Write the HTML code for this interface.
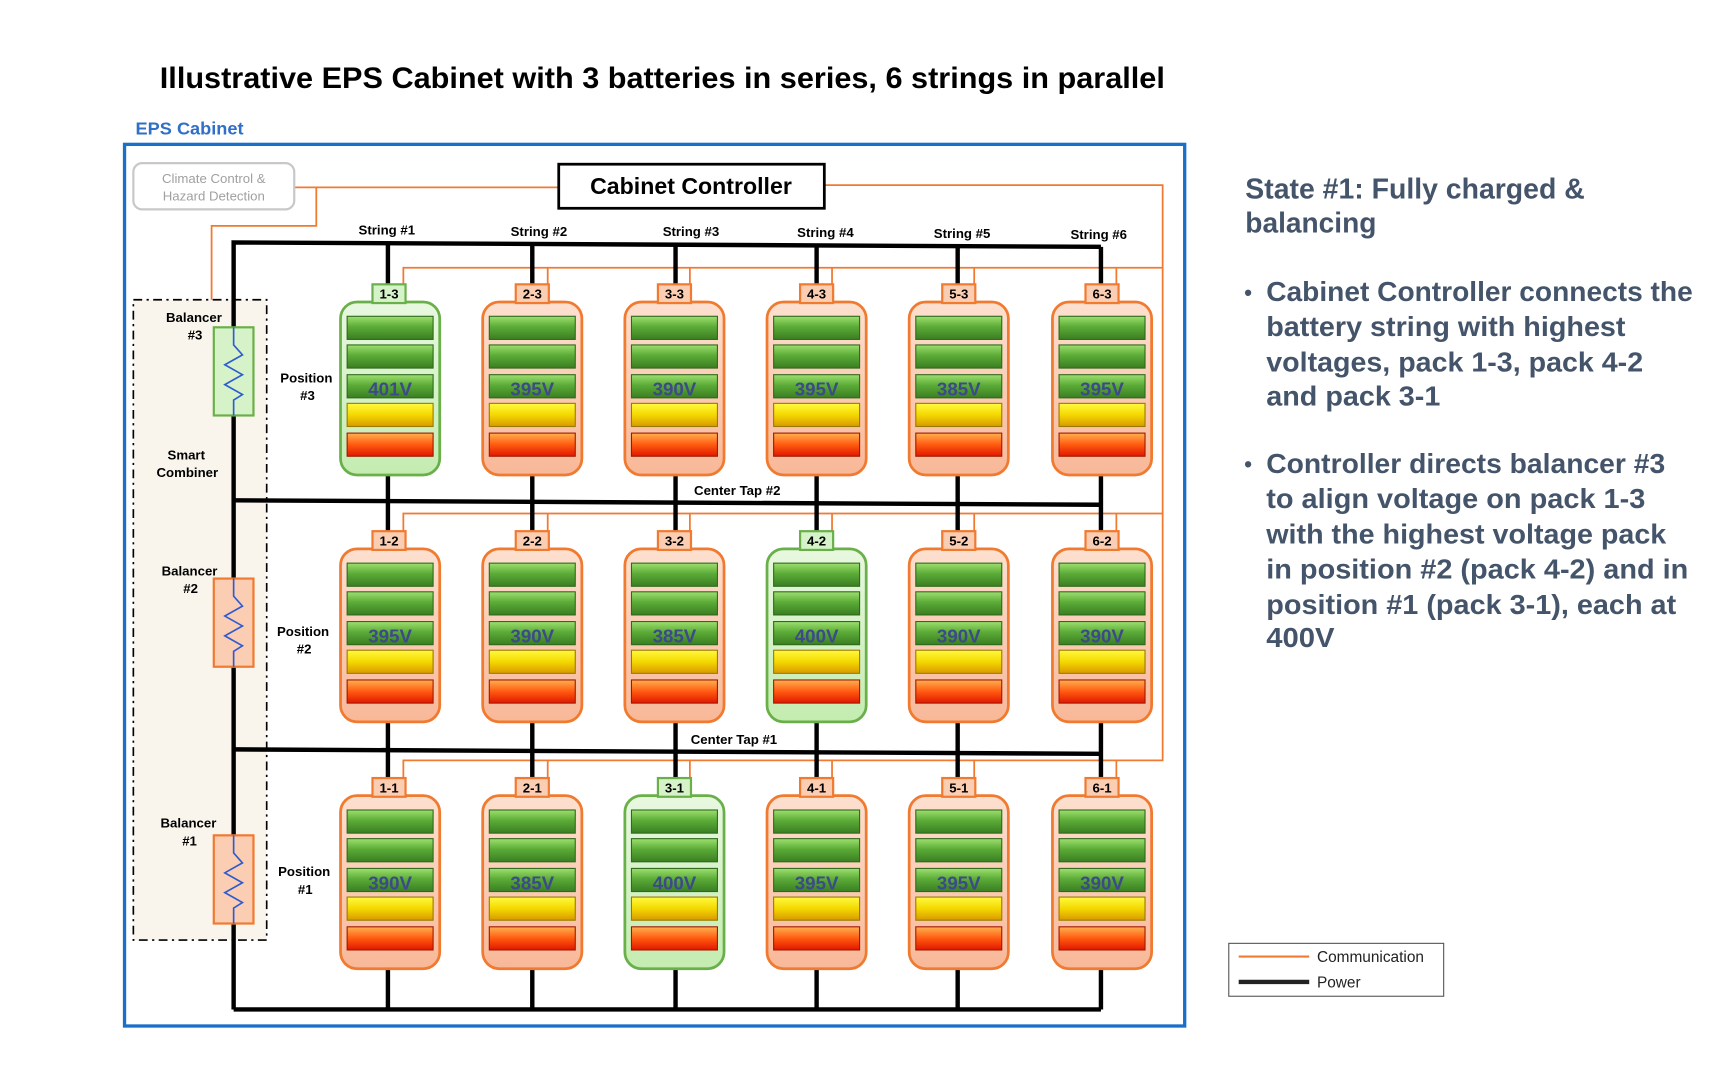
<!DOCTYPE html>
<html><head><meta charset="utf-8"><style>
html,body{margin:0;padding:0;background:#fff;}
svg{display:block;}
text{font-family:"Liberation Sans",sans-serif;}
</style></head><body>
<svg width="1728" height="1080" viewBox="0 0 1568 980" xmlns="http://www.w3.org/2000/svg">
<defs>
<linearGradient id="gG" x1="0" y1="0" x2="0" y2="1"><stop offset="0" stop-color="#9ee070"/><stop offset="0.45" stop-color="#5cac38"/><stop offset="1" stop-color="#3a7e22"/></linearGradient>
<linearGradient id="gY" x1="0" y1="0" x2="0" y2="1"><stop offset="0" stop-color="#fffa40"/><stop offset="0.5" stop-color="#f4d800"/><stop offset="1" stop-color="#d89a00"/></linearGradient>
<linearGradient id="gR" x1="0" y1="0" x2="0" y2="1"><stop offset="0" stop-color="#ffb050"/><stop offset="0.5" stop-color="#ff5a10"/><stop offset="1" stop-color="#e01800"/></linearGradient>
<linearGradient id="gO" x1="0" y1="0" x2="0" y2="1"><stop offset="0" stop-color="#fde0d0"/><stop offset="1" stop-color="#f8b898"/></linearGradient>
<linearGradient id="gGr" x1="0" y1="0" x2="0" y2="1"><stop offset="0" stop-color="#e8f8e0"/><stop offset="1" stop-color="#c4ecb0"/></linearGradient>
<g id="bars">
<rect x="6" y="13" width="78" height="21" fill="url(#gG)" stroke="#2e6a1a" stroke-width="1"/>
<rect x="6" y="39" width="78" height="21" fill="url(#gG)" stroke="#2e6a1a" stroke-width="1"/>
<rect x="6" y="66" width="78" height="21" fill="url(#gG)" stroke="#2e6a1a" stroke-width="1"/>
<rect x="6" y="92" width="78" height="21" fill="url(#gY)" stroke="#9a7a00" stroke-width="1"/>
<rect x="6" y="119" width="78" height="21" fill="url(#gR)" stroke="#a01800" stroke-width="1"/>
</g>
<g id="po"><rect x="0" y="0" width="90" height="157" rx="15" fill="url(#gO)" stroke="#f07a30" stroke-width="2.5"/><use href="#bars"/></g>
<g id="pg"><rect x="0" y="0" width="90" height="157" rx="15" fill="url(#gGr)" stroke="#6ab04a" stroke-width="2.5"/><use href="#bars"/></g>
</defs>

<text x="145" y="80" font-size="27" font-weight="bold" textLength="912" lengthAdjust="spacingAndGlyphs">Illustrative EPS Cabinet with 3 batteries in series, 6 strings in parallel</text>
<text x="123" y="122" font-size="16" font-weight="bold" fill="#2f6fc6" textLength="98" lengthAdjust="spacingAndGlyphs">EPS Cabinet</text>

<rect x="113" y="131" width="962" height="800" fill="#fff" stroke="#1a6fc9" stroke-width="3"/>

<!-- smart combiner -->
<rect x="121" y="272" width="121" height="581" fill="#f9f5ec" stroke="#000" stroke-width="1.5" stroke-dasharray="8,4,2,4"/>

<!-- orange comm lines -->
<g stroke="#f07a30" stroke-width="1.6" fill="none">
<polyline points="267,170 507,170"/>
<polyline points="287,170 287,205 192,205 192,272"/>
<polyline points="748,168 1055,168 1055,690 366,690 366,707"/>
<polyline points="366,258 366,243 1055,243"/>
<polyline points="366,483 366,466 1055,466"/>
<line x1="497" y1="243" x2="497" y2="258"/><line x1="626" y1="243" x2="626" y2="258"/><line x1="755" y1="243" x2="755" y2="258"/><line x1="884" y1="243" x2="884" y2="258"/><line x1="1013" y1="243" x2="1013" y2="258"/>
<line x1="497" y1="466" x2="497" y2="483"/><line x1="626" y1="466" x2="626" y2="483"/><line x1="755" y1="466" x2="755" y2="483"/><line x1="884" y1="466" x2="884" y2="483"/><line x1="1013" y1="466" x2="1013" y2="483"/>
<line x1="497" y1="690" x2="497" y2="707"/><line x1="626" y1="690" x2="626" y2="707"/><line x1="755" y1="690" x2="755" y2="707"/><line x1="884" y1="690" x2="884" y2="707"/><line x1="1013" y1="690" x2="1013" y2="707"/>
</g>

<!-- power lines -->
<g stroke="#000" stroke-width="4" fill="none">
<polyline points="212,916 212,220 999,224"/>
<line x1="212" y1="916" x2="999" y2="916"/>
<line x1="212" y1="454" x2="999" y2="458"/>
<line x1="212" y1="680" x2="999" y2="684"/>
<line x1="352" y1="220" x2="352" y2="916"/>
<line x1="483" y1="221" x2="483" y2="916"/>
<line x1="613" y1="222" x2="613" y2="916"/>
<line x1="741" y1="222" x2="741" y2="916"/>
<line x1="869" y1="223" x2="869" y2="916"/>
<line x1="999" y1="224" x2="999" y2="916"/>
</g>

<!-- boxes top -->
<rect x="121" y="148" width="146" height="42" rx="8" fill="#fff" stroke="#c8c8c8" stroke-width="2"/>
<text x="194" y="166" font-size="12" fill="#a0a0a0" text-anchor="middle">Climate Control &amp;</text>
<text x="194" y="182" font-size="12" fill="#a0a0a0" text-anchor="middle">Hazard Detection</text>
<rect x="507" y="149" width="241" height="40" fill="#fff" stroke="#000" stroke-width="2.5"/>
<text x="627" y="176" font-size="21" font-weight="bold" text-anchor="middle">Cabinet Controller</text>

<!-- balancers -->
<g>
<rect x="194" y="297" width="36" height="80" fill="#d6f2c8" stroke="#6ab04a" stroke-width="2"/>
<rect x="194" y="525" width="36" height="80" fill="#fbcdb2" stroke="#f07a30" stroke-width="2"/>
<rect x="194" y="758" width="36" height="80" fill="#fbcdb2" stroke="#f07a30" stroke-width="2"/>
<g stroke="#2e5cd0" stroke-width="1.5" fill="none">
<polyline points="212,297 212,313 220,322 204,331 220,340 204,349 220,358 212,363 212,377"/>
<polyline points="212,525 212,541 220,550 204,559 220,568 204,577 220,586 212,591 212,605"/>
<polyline points="212,758 212,774 220,783 204,792 220,801 204,810 220,819 212,824 212,838"/>
</g>
</g>

<g font-size="12" font-weight="bold" text-anchor="middle">
<text x="176" y="292">Balancer</text><text x="177" y="308">#3</text>
<text x="169" y="417">Smart</text><text x="170" y="433">Combiner</text>
<text x="172" y="522">Balancer</text><text x="173" y="538">#2</text>
<text x="171" y="751">Balancer</text><text x="172" y="767">#1</text>
<text x="278" y="347">Position</text><text x="279" y="363">#3</text>
<text x="275" y="577">Position</text><text x="276" y="593">#2</text>
<text x="276" y="795">Position</text><text x="277" y="811">#1</text>
<text x="351" y="213">String #1</text><text x="489" y="214">String #2</text><text x="627" y="214">String #3</text>
<text x="749" y="215">String #4</text><text x="873" y="216">String #5</text><text x="997" y="217">String #6</text>
<text x="669" y="449">Center Tap #2</text><text x="666" y="675">Center Tap #1</text>
</g>

<!-- packs -->
<use href="#pg" x="309" y="274"/><use href="#po" x="438" y="274"/><use href="#po" x="567" y="274"/><use href="#po" x="696" y="274"/><use href="#po" x="825" y="274"/><use href="#po" x="955" y="274"/>
<use href="#po" x="309" y="498"/><use href="#po" x="438" y="498"/><use href="#po" x="567" y="498"/><use href="#pg" x="696" y="498"/><use href="#po" x="825" y="498"/><use href="#po" x="955" y="498"/>
<use href="#po" x="309" y="722"/><use href="#po" x="438" y="722"/><use href="#pg" x="567" y="722"/><use href="#po" x="696" y="722"/><use href="#po" x="825" y="722"/><use href="#po" x="955" y="722"/>

<!-- labels -->
<g stroke-width="2">
<rect x="338" y="258" width="30" height="17" fill="#d6f2c8" stroke="#6ab04a"/>
<rect x="468" y="258" width="30" height="17" fill="#fbcdb2" stroke="#f07a30"/>
<rect x="597" y="258" width="30" height="17" fill="#fbcdb2" stroke="#f07a30"/>
<rect x="726" y="258" width="30" height="17" fill="#fbcdb2" stroke="#f07a30"/>
<rect x="855" y="258" width="30" height="17" fill="#fbcdb2" stroke="#f07a30"/>
<rect x="985" y="258" width="30" height="17" fill="#fbcdb2" stroke="#f07a30"/>
<rect x="338" y="482" width="30" height="17" fill="#fbcdb2" stroke="#f07a30"/>
<rect x="468" y="482" width="30" height="17" fill="#fbcdb2" stroke="#f07a30"/>
<rect x="597" y="482" width="30" height="17" fill="#fbcdb2" stroke="#f07a30"/>
<rect x="726" y="482" width="30" height="17" fill="#d6f2c8" stroke="#6ab04a"/>
<rect x="855" y="482" width="30" height="17" fill="#fbcdb2" stroke="#f07a30"/>
<rect x="985" y="482" width="30" height="17" fill="#fbcdb2" stroke="#f07a30"/>
<rect x="338" y="706" width="30" height="17" fill="#fbcdb2" stroke="#f07a30"/>
<rect x="468" y="706" width="30" height="17" fill="#fbcdb2" stroke="#f07a30"/>
<rect x="597" y="706" width="30" height="17" fill="#d6f2c8" stroke="#6ab04a"/>
<rect x="726" y="706" width="30" height="17" fill="#fbcdb2" stroke="#f07a30"/>
<rect x="855" y="706" width="30" height="17" fill="#fbcdb2" stroke="#f07a30"/>
<rect x="985" y="706" width="30" height="17" fill="#fbcdb2" stroke="#f07a30"/>
</g>
<g font-size="12" font-weight="bold" text-anchor="middle">
<text x="353" y="271">1-3</text><text x="483" y="271">2-3</text><text x="612" y="271">3-3</text><text x="741" y="271">4-3</text><text x="870" y="271">5-3</text><text x="1000" y="271">6-3</text>
<text x="353" y="495">1-2</text><text x="483" y="495">2-2</text><text x="612" y="495">3-2</text><text x="741" y="495">4-2</text><text x="870" y="495">5-2</text><text x="1000" y="495">6-2</text>
<text x="353" y="719">1-1</text><text x="483" y="719">2-1</text><text x="612" y="719">3-1</text><text x="741" y="719">4-1</text><text x="870" y="719">5-1</text><text x="1000" y="719">6-1</text>
</g>
<g font-size="17" font-weight="bold" fill="#3c4a8a" text-anchor="middle">
<text x="354" y="359">401V</text><text x="483" y="359">395V</text><text x="612" y="359">390V</text><text x="741" y="359">395V</text><text x="870" y="359">385V</text><text x="1000" y="359">395V</text>
<text x="354" y="583">395V</text><text x="483" y="583">390V</text><text x="612" y="583">385V</text><text x="741" y="583">400V</text><text x="870" y="583">390V</text><text x="1000" y="583">390V</text>
<text x="354" y="807">390V</text><text x="483" y="807">385V</text><text x="612" y="807">400V</text><text x="741" y="807">395V</text><text x="870" y="807">395V</text><text x="1000" y="807">390V</text>
</g>

<!-- right text -->
<g fill="#44546a" font-weight="bold">
<text x="1130" y="180" font-size="26" textLength="308" lengthAdjust="spacingAndGlyphs">State #1: Fully charged &amp;</text>
<text x="1130" y="211" font-size="26" textLength="119" lengthAdjust="spacingAndGlyphs">balancing</text>
<g font-size="25">
<text x="1129" y="272" font-size="20">•</text>
<text x="1149" y="273" textLength="387" lengthAdjust="spacingAndGlyphs">Cabinet Controller connects the</text>
<text x="1149" y="305" textLength="326" lengthAdjust="spacingAndGlyphs">battery string with highest</text>
<text x="1149" y="337" textLength="342" lengthAdjust="spacingAndGlyphs">voltages, pack 1-3, pack 4-2</text>
<text x="1149" y="368" textLength="158" lengthAdjust="spacingAndGlyphs">and pack 3-1</text>
<text x="1129" y="428" font-size="20">•</text>
<text x="1149" y="429" textLength="362" lengthAdjust="spacingAndGlyphs">Controller directs balancer #3</text>
<text x="1149" y="461" textLength="344" lengthAdjust="spacingAndGlyphs">to align voltage on pack 1-3</text>
<text x="1149" y="493" textLength="363" lengthAdjust="spacingAndGlyphs">with the highest voltage pack</text>
<text x="1149" y="525" textLength="383" lengthAdjust="spacingAndGlyphs">in position #2 (pack 4-2) and in</text>
<text x="1149" y="557" textLength="372" lengthAdjust="spacingAndGlyphs">position #1 (pack 3-1), each at</text>
<text x="1149" y="587" textLength="62" lengthAdjust="spacingAndGlyphs">400V</text>
</g>
</g>

<!-- legend -->
<rect x="1115" y="856" width="195" height="48" fill="#fff" stroke="#555" stroke-width="1"/>
<line x1="1124" y1="868" x2="1188" y2="868" stroke="#f07a30" stroke-width="2"/>
<line x1="1124" y1="891" x2="1188" y2="891" stroke="#222" stroke-width="4"/>
<text x="1195" y="873" font-size="14" fill="#222">Communication</text>
<text x="1195" y="896" font-size="14" fill="#222">Power</text>
</svg>
</body></html>
